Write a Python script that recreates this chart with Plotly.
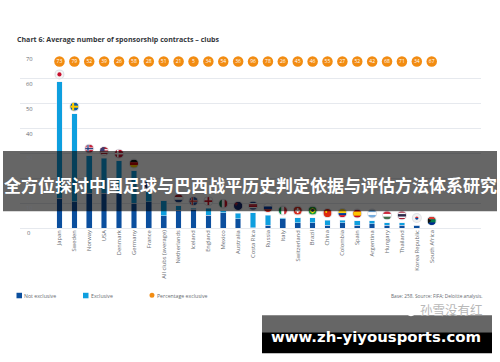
import base64
import plotly.graph_objects as go

countries = ["Japan", "Sweden", "Norway", "USA", "Denmark", "Germany", "France", "All clubs (average)",
             "Netherlands", "Iceland", "England", "Mexico", "Australia", "Costa Rica", "Russia", "Italy",
             "Switzerland", "Brazil", "China", "Colombia", "Spain", "Argentina", "Hungary", "Thailand",
             "Korea Republic", "South Africa"]
not_exclusive = [12, 10.5, 14, 14, 14, 10, 10.5, 5, 7.2, 7.5, 5.2, 6.2, 3.8, 0.2, 1.1, 3.8, 2.2, 2.2, 1.1, 2.1,
                 1.1, 1.8, 1.1, 1.1, 1.1, 0]
exclusive = [46.9, 35.4, 15, 14, 13, 13, 4, 6, 1.8, 0.4, 2.7, 0.7, 2.2, 5.9, 4.1, 0.3, 1.9, 1.9, 2, 1, 1.8, 1.1,
             1.1, 1.1, 0, 0]
pct_exclusive = [73, 79, 52, 39, 26, 58, 28, 51, 21, 5, 34, 54, 36, 96, 78, 26, 45, 46, 55, 27, 52, 42, 68, 71, 34, 67]
pct_row = [67] * len(countries)
y_ticks = [0, 10, 20, 30, 40, 50, 60, 70]

DARK, LIGHT, ORANGE = "#0B4F9E", "#0E9FDF", "#F28C12"
TEXT = "#666a70"
GRID = "#e6e9ee"


def svg(body):
    s = ('<svg xmlns="http://www.w3.org/2000/svg" viewBox="0 0 20 20"><defs><clipPath id="c">'
         '<circle cx="10" cy="10" r="10"/></clipPath></defs><g clip-path="url(#c)">' + body + '</g></svg>')
    return "data:image/svg+xml;base64," + base64.b64encode(s.encode()).decode()


def rect(x, y, w, h, c):
    return f'<rect x="{x}" y="{y}" width="{w}" height="{h}" fill="{c}"/>'


def hs(*cols):
    h = 20 / len(cols)
    return svg("".join(rect(0, i * h, 20, h + .2, c) for i, c in enumerate(cols)))


def vs(*cols):
    w = 20 / len(cols)
    return svg("".join(rect(i * w, 0, w + .2, 20, c) for i, c in enumerate(cols)))


def cross(bg, *layers, cx=7):
    b = rect(0, 0, 20, 20, bg)
    for c, t in layers:
        b += rect(cx - t / 2, 0, t, 20, c) + rect(0, 10 - t / 2, 20, t, c)
    return svg(b)


def dot(bg, *circles):
    b = rect(0, 0, 20, 20, bg)
    for c, r in circles:
        b += f'<circle cx="10" cy="10" r="{r}" fill="{c}"/>'
    return svg(b)


flags = {
    "Japan": dot("#f4f4f4", ("#c8102e", 5)),
    "Sweden": cross("#0a5ba8", ("#fecb00", 5)),
    "Norway": cross("#c8233a", ("#ffffff", 6), ("#1c3578", 3)),
    "USA": svg(rect(0, 0, 20, 20, "#b22234") + rect(0, 5, 20, 3, "#fff") + rect(0, 11, 20, 3, "#fff") + rect(0, 17, 20, 3, "#fff") + rect(0, 0, 11, 10, "#3c3b6e")),
    "Denmark": cross("#c8102e", ("#ffffff", 4)),
    "Germany": hs("#111111", "#d00000", "#ffce00"),
    "France": vs("#1a3f95", "#ffffff", "#e1203a"),
    "Netherlands": hs("#ae1c28", "#ffffff", "#21468b"),
    "Iceland": cross("#1c4fa0", ("#ffffff", 6), ("#d72828", 3)),
    "England": cross("#ffffff", ("#ce1124", 4), cx=10),
    "Mexico": vs("#006847", "#ffffff", "#ce1126"),
    "Australia": svg(rect(0, 0, 20, 20, "#14286e") + rect(0, 4, 10, 2, "#d22") + rect(4, 0, 2, 10, "#d22")),
    "Costa Rica": hs("#002b7f", "#ffffff", "#ce1126", "#ce1126", "#ffffff", "#002b7f"),
    "Russia": hs("#ffffff", "#0039a6", "#d52b1e"),
    "Italy": vs("#009246", "#ffffff", "#ce2b37"),
    "Switzerland": svg(rect(0, 0, 20, 20, "#d52b1e") + rect(8, 4, 4, 12, "#fff") + rect(4, 8, 12, 4, "#fff")),
    "Brazil": svg(rect(0, 0, 20, 20, "#1a9a3a") + '<path d="M10 3L18 10L10 17L2 10Z" fill="#fedf00"/><circle cx="10" cy="10" r="3.6" fill="#12306e"/>'),
    "China": svg(rect(0, 0, 20, 20, "#de2910") + '<circle cx="7" cy="7" r="2.5" fill="#ffde00"/>'),
    "Colombia": svg(rect(0, 0, 20, 10, "#fcd116") + rect(0, 10, 20, 5, "#003893") + rect(0, 15, 20, 5, "#ce1126")),
    "Spain": svg(rect(0, 0, 20, 20, "#c60b1e") + rect(0, 5, 20, 10, "#ffc400")),
    "Argentina": hs("#74acdf", "#ffffff", "#74acdf"),
    "Hungary": hs("#cd2a3e", "#ffffff", "#436f4d"),
    "Thailand": svg(rect(0, 0, 20, 20, "#a51931") + rect(0, 3.5, 20, 13, "#f4f5f8") + rect(0, 7, 20, 6, "#2d2a4a")),
    "Korea Republic": svg(rect(0, 0, 20, 20, "#f0f0f0") + '<path d="M6 10a4 4 0 0 1 8 0z" fill="#cd2e3a"/><path d="M6 10a4 4 0 0 0 8 0z" fill="#0047a0"/>'),
    "South Africa": svg(rect(0, 0, 20, 20, "#007a4d") + rect(0, 0, 20, 6, "#de3831") + rect(0, 14, 20, 6, "#002395") + '<path d="M0 3L9 10L0 17Z" fill="#111"/>'),
}

idx = list(range(len(countries)))
totals = [a + b for a, b in zip(not_exclusive, exclusive)]
flag_y = [t + 2.9 for t in totals]
has_flag = [c in flags for c in countries]

fig = go.Figure()
fig.add_bar(x=idx, y=not_exclusive, name="Not exclusive", marker_color=DARK, width=0.38)
fig.add_bar(x=idx, y=exclusive, name="Exclusive", marker_color=LIGHT, width=0.38)
fig.add_scatter(x=idx, y=pct_row, mode="markers+text", name="Percentage exclusive", text=pct_exclusive,
                textposition="middle center", textfont=dict(size=5, color="white", family="Open Sans"),
                marker=dict(size=10.5, color=ORANGE))
fig.add_scatter(x=[i for i, f in zip(idx, has_flag) if f], y=[y for y, f in zip(flag_y, has_flag) if f],
                mode="markers", marker=dict(size=10, color="#dfe1e6"), name="flags")

images = [dict(source=flags[c], xref="x", yref="y", x=i, y=y, sizex=0.56, sizey=3.3,
               xanchor="center", yanchor="middle", sizing="stretch", layer="above")
          for i, c, y in zip(idx, countries, flag_y) if c in flags]


def pshape(t, x0, y0, x1, y1, **kw):
    d = dict(type=t, xref="paper", yref="paper", layer="above", line_width=0)
    d.update(kw)
    return d | dict(x0=(x0 - 20) / 461, x1=(x1 - 20) / 461,
                    y0=(227.8 - y0) / 173.8, y1=(227.8 - y1) / 173.8)


def pnote(x, y, text, size, color=TEXT, anchor="left", family="Open Sans"):
    return dict(xref="paper", yref="paper", x=(x - 20) / 461, y=(227.8 - y) / 173.8, text=text, showarrow=False,
                xanchor=anchor, yanchor="middle", align=anchor,
                font=dict(size=size, color=color, family=family))


band = "rgba(0,0,0,0.6)"
shapes = [
    pshape("rect", 3, 151, 497, 211, fillcolor=band),
    pshape("rect", 262, 315, 492, 332, fillcolor="#666666"),
    pshape("rect", 262, 332, 492, 353, fillcolor="#000000"),
    pshape("rect", 16.5, 292.5, 22, 298, fillcolor=DARK),
    pshape("rect", 83, 292.5, 88.5, 298, fillcolor=LIGHT),
    pshape("circle", 149.5, 292.5, 154.5, 297.5, fillcolor=ORANGE),
    pshape("circle", 399, 303, 411, 314, fillcolor="white", line=dict(color="#cfcfcf", width=1)),
    pshape("circle", 406, 306, 416, 316, fillcolor="white", line=dict(color="#cfcfcf", width=1)),
]
notes = [
    pnote(14.5, 39, "<b>Chart 6: Average number of sponsorship contracts – clubs</b>", 7.05, "#33363a"),
    pnote(22, 295.5, "Not exclusive", 5.2),
    pnote(88.5, 295.5, "Exclusive", 5.2),
    pnote(155, 295.5, "Percentage exclusive", 5.2),
    pnote(485, 295.5, "Base: 258. Source: FIFA; Deloitte analysis.", 4.8, anchor="right"),
    pnote(485, 309, "孙雪没有红", 12.5, "#b8b8b8", anchor="right", family="Noto Sans CJK SC"),
    pnote(250, 184, "<b>全方位探讨中国足球与巴西战平历史判定依据与评估方法体系研究</b>", 17, "white", "center", "Noto Sans CJK SC"),
    pnote(376, 337, "<b>www.zh-yiyousports.com</b>", 14.9, "white", "center", "DejaVu Sans"),
]
for t in y_ticks:
    notes.append(dict(xref="paper", yref="y", x=(29 - 20) / 461, y=t, yshift=-5, text=str(t), showarrow=False,
                      xanchor="center", yanchor="middle", font=dict(size=5.8, color=TEXT, family="Open Sans")))

fig.update_layout(
    width=500, height=362, autosize=False, barmode="stack", showlegend=False,
    margin=dict(l=20, r=19, t=54, b=134.2), paper_bgcolor="white", plot_bgcolor="white",
    bargap=0.6, shapes=shapes, annotations=notes, images=images,
    xaxis=dict(range=[-2.65, 28.31], tickmode="array", tickvals=idx, ticktext=countries, tickangle=-90,
               showgrid=False, zeroline=False, showline=False, ticks="", ticklen=0,
               tickfont=dict(size=5.8, color=TEXT, family="Open Sans")),
    yaxis=dict(range=[0, 70], tickvals=y_ticks, showticklabels=False, gridcolor=GRID, gridwidth=1.3,
               zeroline=True, zerolinecolor=GRID, zerolinewidth=1.3, ticks=""),
)
fig.write_html("out.html", config=dict(displayModeBar=False),
               post_script="document.body.style.margin='0';document.documentElement.style.overflow='hidden';")
